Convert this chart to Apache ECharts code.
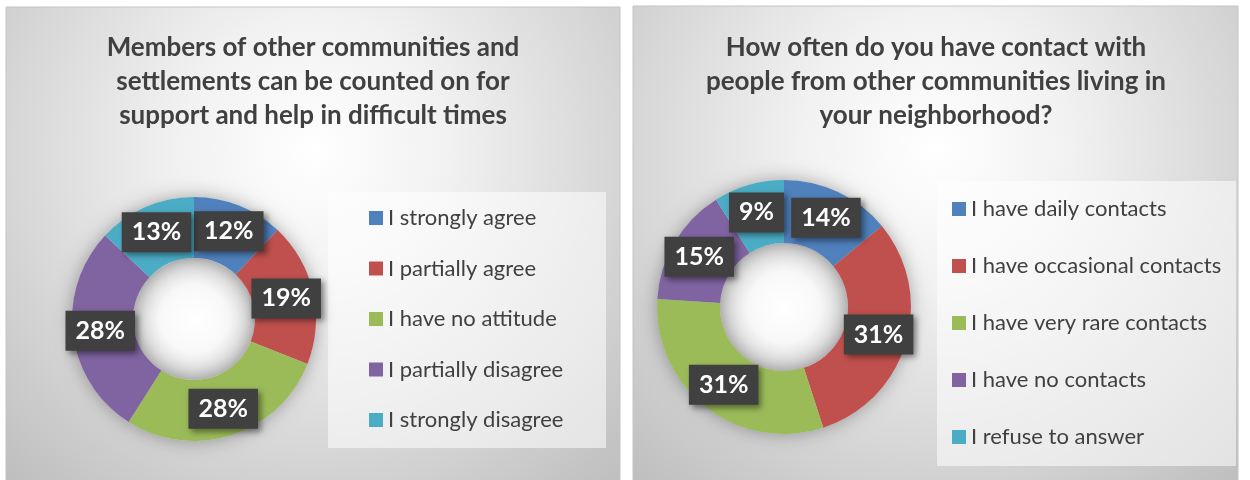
<!DOCTYPE html>
<html>
<head>
<meta charset="utf-8">
<script src="https://cdn.jsdelivr.net/npm/echarts@6/dist/echarts.min.js"></script>
<style>
  html, body { margin: 0; padding: 0; background: #ffffff; }
  #chart { width: 1250px; height: 480px; }
</style>
</head>
<body>
<div id="chart"></div>
<script>
// Survey answers, percent of respondents
const supportTitle = 'Members of other communities and\nsettlements can be counted on for\nsupport and help in difficult times';
const supportCategories = ['I strongly agree', 'I partially agree', 'I have no attitude', 'I partially disagree', 'I strongly disagree'];
const supportValues = [12, 19, 28, 28, 13];

const contactTitle = 'How often do you have contact with\npeople from other communities living in\nyour neighborhood?';
const contactCategories = ['I have daily contacts', 'I have occasional contacts', 'I have very rare contacts', 'I have no contacts', 'I refuse to answer'];
const contactValues = [14, 31, 31, 15, 9];

const palette = ['#4f81bd', '#c0504d', '#9bbb59', '#8064a2', '#4bacc6'];

const FONT = 'Lato';
const TEXT = '#404040';

function panelBg(x, y, w, h) {
  return {
    type: 'rect', z: -10, silent: true,
    shape: { x: x, y: y, width: w, height: h },
    style: {
      fill: {
        type: 'radial', x: 0.5, y: 0.3, r: 0.95,
        colorStops: [
          { offset: 0, color: '#ffffff' },
          { offset: 0.3, color: '#f1f1f1' },
          { offset: 1, color: '#bdbdbd' }
        ]
      },
      stroke: '#c4c4c4', lineWidth: 1
    }
  };
}

function legendBox(x, y, w, h) {
  return {
    type: 'rect', z: -5, silent: true,
    shape: { x: x, y: y, width: w, height: h },
    style: { fill: 'rgba(255,255,255,0.55)' }
  };
}

function makeTitle(text, cx) {
  return {
    text: text,
    left: cx, top: 31, textAlign: 'center', padding: 0,
    textStyle: { fontFamily: FONT, fontSize: 26, fontWeight: 'bold', color: TEXT, lineHeight: 34 }
  };
}

function makeLegend(names, left, top, gap) {
  return {
    orient: 'vertical', left: left, top: top, padding: 0,
    icon: 'rect', itemWidth: 14, itemHeight: 14, itemGap: gap, itemTextGap: 5,
    data: names, selectedMode: false,
    textStyle: { fontFamily: FONT, fontSize: 22, color: TEXT, lineHeight: 26 }
  };
}

// lit centre inside the ring
function ringHole(center, inner) {
  return {
    type: 'pie', center: center, radius: [0, inner], silent: true, z: 0,
    label: { show: false }, labelLine: { show: false },
    itemStyle: {
      color: {
        type: 'radial', x: 0.5, y: 0.5, r: 0.5,
        colorStops: [
          { offset: 0, color: '#ffffff' },
          { offset: 0.55, color: '#f8f8f8' },
          { offset: 1, color: '#d4d4d4' }
        ]
      }
    },
    data: [{ value: 1, name: '' }],
    legendHoverLink: false, tooltip: { show: false }, emphasis: { disabled: true }
  };
}

// soft halo beneath each ring
function ringShadow(center, radius) {
  return {
    type: 'pie', center: center, radius: radius, silent: true, z: 1,
    label: { show: false }, labelLine: { show: false },
    itemStyle: { color: '#d8d8d8', shadowBlur: 18, shadowColor: 'rgba(0,0,0,0.32)' },
    data: [{ value: 1, name: '' }],
    legendHoverLink: false, tooltip: { show: false }, emphasis: { disabled: true }
  };
}

function ring(names, values, center, radius) {
  return {
    type: 'pie', center: center, radius: radius, startAngle: 90, clockwise: true, z: 2,
    avoidLabelOverlap: false, emphasis: { disabled: true },
    data: names.map((n, i) => ({ name: n, value: values[i], itemStyle: { color: palette[i] } })),
    label: {
      show: true, position: 'inside', formatter: '{c}%',
      fontFamily: FONT, fontSize: 25, fontWeight: 'bold', color: '#ffffff',
      backgroundColor: '#404040', padding: [8, 10, 7, 10],
      shadowBlur: 6, shadowColor: 'rgba(0,0,0,0.45)', shadowOffsetX: 3, shadowOffsetY: 3
    },
    labelLine: { show: false }
  };
}

const chart = echarts.init(document.getElementById('chart'), null, { renderer: 'canvas' });
chart.setOption({
  animation: false,
  color: palette,
  graphic: [
    panelBg(6, 7, 614, 480),
    panelBg(633, 6, 605, 480),
    legendBox(328, 192, 278, 256),
    legendBox(937, 181, 299, 285)
  ],
  title: [makeTitle(supportTitle, 313), makeTitle(contactTitle, 936)],
  legend: [
    makeLegend(supportCategories, 369, 205, 24.5),
    makeLegend(contactCategories, 952, 196, 31)
  ],
  series: [
    ringHole([194, 319], 61),
    ringShadow([194, 319], [61, 122]),
    ring(supportCategories, supportValues, [194, 319], [61, 122]),
    ringHole([784, 307], 64),
    ringShadow([784, 307], [64, 127]),
    ring(contactCategories, contactValues, [784, 307], [64, 127])
  ]
});
</script>
</body>
</html>
